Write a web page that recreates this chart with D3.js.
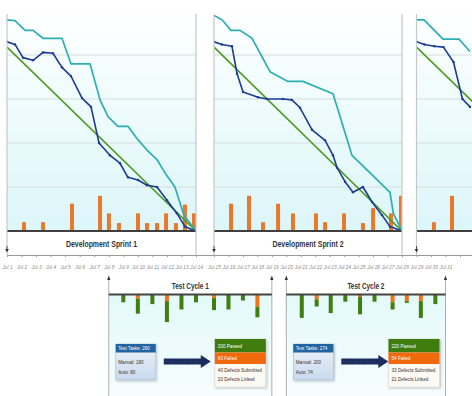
<!DOCTYPE html>
<html><head><meta charset="utf-8">
<script src="https://cdn.jsdelivr.net/npm/d3@7"></script>
<style>
body{margin:0;background:#fff}
svg{display:block}
text{font-family:"Liberation Sans",Arial,sans-serif}
</style>
</head><body>
<svg id="c" width="472" height="396"></svg>
<script>
// ---------------- data ----------------
const sprintNames = ["Development Sprint 1", "Development Sprint 2", ""];
const sprintStart = [1, 15, 29];
const sprintEnd = [14, 28, 42];
const idealStart = 209;
const gridValues = [50, 100, 150, 200];
const tickDays = d3.range(1, 34);
const tickLabels = tickDays.map(d => d <= 31 ? "Jul " + d : "");

// scope (teal) line per sprint
const scopeDays1 = [1,1.55,2.24,2.79,3.48,4.78,5.40,6.71,7.40,7.95,8.63,9.32,9.94,10.63,11.32,11.87,12.55,13.17,14];
const scope1     = [240,239,228,228,219,219,190,190,149,130,119,119,105,92,81,66,50,18,0];
const scopeDays2 = [15,15.55,16.18,16.80,17.63,18.32,18.87,20.12,21.15,23.23,24.54,25.79,27.17,27.40,28];
const scope2     = [245,240,228,228,219,198,181,170,170,156,86,66,44,20,0];
const scopeDays3 = [29,29.52,30.83,31.93,32.69];
const scope3     = [240,240,218,218,204];

// remaining work (blue) line per sprint
const burnDays1 = [1,1.55,2.10,2.79,3.48,4.16,4.78,5.40,6.16,6.78,7.33,8.08,8.77,9.32,10.01,10.63,11.32,12.0,12.69,13.24,13.93];
const burn1     = [215,212,197,194,203,202,186,176,151,141,100,86,77,61,58,52,50,35,20,5,0];
const burnDays2 = [15,15.55,16.24,16.59,17.01,18.04,18.67,19.77,20.39,20.95,21.78,22.68,23.23,23.51,24.06,24.61,25.30,25.93,26.62,27.17,28];
const burn2     = [215,212,210,179,158,152,150,150,149,140,115,103,86,72,56,44,50,33,18,5,0];
const burnDays3 = [29,29.55,30.24,30.86,31.55,32.17,32.69];
const burn3     = [215,212,210,209,192,150,141];

// added work (orange bars) per sprint
const addedDays1 = [2.17,3.48,5.47,7.40,8.01,8.70,10.01,10.63,11.32,11.94,12.62,13.24,13.86];
const added1     = [10,10,31,40,20,9,20,9,9,20,9,30,20];
const addedDays2 = [16.18,17.42,18.39,19.43,20.46,22.05,22.68,23.99,25.30,26.0,27.24,27.93];
const added2     = [31,40,10,31,20,20,10,20,9,26,20,40];
const addedDays3 = [30.2,31.45];
const added3     = [10,40];

// test cycles
const cycleNames = ["Test Cycle 1", "Test Cycle 2"];
const cycleStart = [8, 20];
const cycleEnd = [19, 31];
const cycleDays1 = [9,10,11,12,13,14,15,16,17,18];
const passed1    = [13,25,16,35,25,13,20,25,10,17];
const failed1    = [0,7,0,11,0,0,6,0,0,21];
const cycleDays2 = [21.07,22.1,23.07,24.08,25.1,26.1,27.35,28.33,29.3,30.3];
const passed2    = [39,12,31,12,29,12,12,3,28,16];
const failed2    = [0,8,0,0,4,0,13,11,11,0];
const cycleTasks = [260, 274];
const cycleManual = [180, 200];
const cycleAuto = [80, 74];
const cyclePassed = [200, 220];
const cycleFailed = [60, 54];
const cycleDefectsSubmitted = [40, 33];
const cycleDefectsLinked = [20, 21];

// ---------------- drawing ----------------
const scopeDays = [scopeDays1, scopeDays2, scopeDays3], scopeVals = [scope1, scope2, scope3];
const burnDays = [burnDays1, burnDays2, burnDays3], burnVals = [burn1, burn2, burn3];
const addedDays = [addedDays1, addedDays2, addedDays3], addedVals = [added1, added2, added3];

const svg = d3.select("#c");
const W = 472;
const x = d3.scaleLinear().domain([1, 14, 15, 28, 29, 42]).range([7, 196, 214, 402, 416.5, 605]);
const y = d3.scaleLinear().domain([0, 250]).range([231, 11]);
const PANEL_TOP = 14, LABEL_BOTTOM = 255;

const defs = svg.append("defs");
const g1 = defs.append("linearGradient").attr("id", "bg").attr("x1", 0).attr("y1", 0).attr("x2", 0).attr("y2", 1);
g1.append("stop").attr("offset", "0%").attr("stop-color", "#fdffff");
g1.append("stop").attr("offset", "100%").attr("stop-color", "#dcf6f9");
const g2 = defs.append("linearGradient").attr("id", "bg2").attr("x1", 0).attr("y1", 0).attr("x2", 0).attr("y2", 1);
g2.append("stop").attr("offset", "0%").attr("stop-color", "#e4f9fb");
g2.append("stop").attr("offset", "100%").attr("stop-color", "#f6fdfe");
const g3 = defs.append("linearGradient").attr("id", "taskbg").attr("x1", 0).attr("y1", 0).attr("x2", 0).attr("y2", 1);
g3.append("stop").attr("offset", "0%").attr("stop-color", "#eef3f9");
g3.append("stop").attr("offset", "100%").attr("stop-color", "#c9d9ec");
const f = defs.append("filter").attr("id", "sh").attr("x", "-20%").attr("y", "-20%").attr("width", "140%").attr("height", "140%");
f.append("feDropShadow").attr("dx", 1).attr("dy", 1).attr("stdDeviation", 1).attr("flood-color", "#000").attr("flood-opacity", 0.25);

const lineGen = d3.line().x(d => x(d[0])).y(d => y(d[1]));

sprintNames.forEach((name, i) => {
  const x0 = x(sprintStart[i]), x1 = Math.min(x(sprintEnd[i]), W + 2);
  const g = svg.append("g");
  defs.append("clipPath").attr("id", "clip" + i).append("rect")
    .attr("x", x0).attr("y", PANEL_TOP).attr("width", x1 - x0).attr("height", y(0) - PANEL_TOP);
  g.append("rect").attr("x", x0).attr("y", PANEL_TOP).attr("width", x1 - x0).attr("height", y(0) - PANEL_TOP)
    .attr("fill", "url(#bg)");
  const inner = g.append("g").attr("clip-path", "url(#clip" + i + ")");
  inner.selectAll("line.grid").data(gridValues).join("line")
    .attr("x1", x0).attr("x2", x1).attr("y1", d => y(d)).attr("y2", d => y(d))
    .attr("stroke", "#d6dcdd").attr("stroke-width", 1);
  // bars
  inner.selectAll("rect.bar").data(addedDays[i].map((d, k) => [d, addedVals[i][k]])).join("rect")
    .attr("x", d => x(d[0]) - 2).attr("width", 4)
    .attr("y", d => y(d[1])).attr("height", d => y(0) - y(d[1]))
    .attr("fill", "#e8782c");
  // ideal line
  inner.append("path").datum([[sprintStart[i], idealStart], [sprintEnd[i], 0]])
    .attr("d", lineGen).attr("fill", "none").attr("stroke", "#4b9a1c").attr("stroke-width", 1.6);
  // scope
  inner.append("path").datum(scopeDays[i].map((d, k) => [d, scopeVals[i][k]]))
    .attr("d", lineGen).attr("fill", "none").attr("stroke", "#2cafb2").attr("stroke-width", 1.7)
    .attr("stroke-linejoin", "round");
  // burn
  const bd = burnDays[i].map((d, k) => [d, burnVals[i][k]]);
  inner.append("path").datum(bd)
    .attr("d", lineGen).attr("fill", "none").attr("stroke", "#1b3c95").attr("stroke-width", 1.6)
    .attr("stroke-linejoin", "round");
  inner.selectAll("circle").data(bd).join("circle")
    .attr("cx", d => x(d[0])).attr("cy", d => y(d[1])).attr("r", 1.2).attr("fill", "#1b3c95");
  // baseline
  g.append("line").attr("x1", x0).attr("x2", x1).attr("y1", y(0)).attr("y2", y(0))
    .attr("stroke", "#3f3f3f").attr("stroke-width", 2);
  // label area
  g.append("rect").attr("x", x0).attr("y", y(0) + 1).attr("width", x1 - x0).attr("height", LABEL_BOTTOM - y(0) - 1)
    .attr("fill", "#fff");
  if (name) {
    g.append("text").attr("x", (x0 + x1) / 2).attr("y", 246.5).attr("text-anchor", "middle")
      .attr("font-size", 9.5).attr("font-weight", "bold").attr("fill", "#333")
      .attr("textLength", 71).attr("lengthAdjust", "spacingAndGlyphs").text(name);
  }
  // borders
  [x0, x1].forEach(bx => {
    if (bx < W) g.append("line").attr("x1", bx).attr("x2", bx).attr("y1", PANEL_TOP).attr("y2", LABEL_BOTTOM)
      .attr("stroke", "#c4c8c8").attr("stroke-width", 1.2);
  });
});

// time axis
const ax = svg.append("g").attr("transform", "translate(0," + LABEL_BOTTOM + ")")
  .call(d3.axisBottom(x).tickValues(tickDays).tickSize(2).tickSizeOuter(0).tickFormat((d, i) => tickLabels[i]));
ax.select(".domain").attr("stroke", "#9a9a9a");
ax.selectAll(".tick line").attr("stroke", "#9a9a9a");
ax.selectAll(".tick text").attr("y", 11).attr("font-size", 4.8).attr("font-style", "italic")
  .attr("fill", "#8a8a8a").attr("font-family", "Liberation Sans, Arial, sans-serif");

// sprint start markers
sprintStart.forEach(s => {
  const cx = x(s);
  svg.append("line").attr("x1", cx).attr("x2", cx).attr("y1", 246).attr("y2", 250).attr("stroke", "#333").attr("stroke-width", 0.8);
  svg.append("path").attr("d", `M${cx - 1.8},249 L${cx + 1.8},249 L${cx},252.5 Z`).attr("fill", "#333");
});

// test cycles
const cycleDays = [cycleDays1, cycleDays2], passedVals = [passed1, passed2], failedVals = [failed1, failed2];
const t = d3.scaleLinear().domain([0, 100]).range([0, 60]);
const LINE_Y = 294.5;
cycleNames.forEach((name, i) => {
  const x0 = x(cycleStart[i]), x1 = x(cycleEnd[i]);
  const g = svg.append("g");
  g.append("rect").attr("x", x0).attr("y", LINE_Y).attr("width", x1 - x0).attr("height", 396 - LINE_Y)
    .attr("fill", "url(#bg2)");
  [x0, x1].forEach(bx => {
    g.append("line").attr("x1", bx).attr("x2", bx).attr("y1", 277).attr("y2", 396)
      .attr("stroke", "#9a9a9a").attr("stroke-width", 0.8);
    g.append("path").attr("d", `M${bx - 1.6},280 L${bx + 1.6},280 L${bx},275.5 Z`).attr("fill", "#333");
  });
  g.append("text").attr("x", (x0 + x1) / 2).attr("y", 288.5).attr("text-anchor", "middle")
    .attr("font-size", 9).attr("font-weight", "bold").attr("fill", "#333")
    .attr("textLength", 37).attr("lengthAdjust", "spacingAndGlyphs").text(name);
  // bars
  const data = cycleDays[i].map((d, k) => ({d, p: passedVals[i][k], f: failedVals[i][k]}));
  g.selectAll("rect.f").data(data).join("rect")
    .attr("x", d => x(d.d) - 2).attr("width", 4).attr("y", LINE_Y).attr("height", d => t(d.f))
    .attr("fill", "#f07318");
  g.selectAll("rect.p").data(data).join("rect")
    .attr("x", d => x(d.d) - 2).attr("width", 4).attr("y", d => LINE_Y + t(d.f)).attr("height", d => t(d.p))
    .attr("fill", "#3e7f10");
  g.append("line").attr("x1", x0).attr("x2", x1).attr("y1", LINE_Y).attr("y2", LINE_Y)
    .attr("stroke", "#444").attr("stroke-width", 1.8);

  // tasks box
  const bx = x0 + 7;
  const tb = g.append("g").attr("filter", "url(#sh)");
  tb.append("rect").attr("x", bx).attr("y", 344).attr("width", 40).attr("height", 36)
    .attr("fill", "url(#taskbg)").attr("stroke", "#a6bdd6").attr("stroke-width", 0.6);
  tb.append("rect").attr("x", bx).attr("y", 344).attr("width", 40).attr("height", 8.5).attr("fill", "#2463a1");
  g.append("text").attr("x", bx + 2.5).attr("y", 350).attr("font-size", 4.6).attr("fill", "#fff")
    .text("Test Tasks: " + cycleTasks[i]);
  g.append("text").attr("x", bx + 2.5).attr("y", 363.5).attr("font-size", 4.6).attr("fill", "#333")
    .text("Manual: " + cycleManual[i]);
  g.append("text").attr("x", bx + 2.5).attr("y", 373.5).attr("font-size", 4.6).attr("fill", "#333")
    .text("Auto: " + cycleAuto[i]);

  // arrow
  const a0 = x0 + 55, a1 = x0 + 102, ay = 361.5;
  g.append("path").attr("d",
    `M${a0},${ay - 3} L${a1 - 10},${ay - 3} L${a1 - 10},${ay - 6.5} L${a1},${ay} L${a1 - 10},${ay + 6.5} L${a1 - 10},${ay + 3} L${a0},${ay + 3} Z`)
    .attr("fill", "#1b2d5c");
  g.append("line").attr("x1", a0 + 2).attr("x2", a1 - 12).attr("y1", ay).attr("y2", ay)
    .attr("stroke", "#5d75a6").attr("stroke-width", 0.5).attr("stroke-dasharray", "1,5");

  // result box
  const rx = x1 - 57, rw = 51;
  const rb = g.append("g").attr("filter", "url(#sh)");
  rb.append("rect").attr("x", rx).attr("y", 339).attr("width", rw).attr("height", 48)
    .attr("fill", "#fdf9f3").attr("stroke", "#d2d2d2").attr("stroke-width", 0.6);
  rb.append("rect").attr("x", rx).attr("y", 339).attr("width", rw).attr("height", 13.5).attr("fill", "#3c7c0f");
  rb.append("rect").attr("x", rx).attr("y", 352.5).attr("width", rw).attr("height", 11.5).attr("fill", "#f06a0c");
  g.append("text").attr("x", rx + 3).attr("y", 347.5).attr("font-size", 4.6).attr("fill", "#fff")
    .text(cyclePassed[i] + " Passed");
  g.append("text").attr("x", rx + 3).attr("y", 360).attr("font-size", 4.6).attr("fill", "#fff")
    .text(cycleFailed[i] + " Failed");
  g.append("text").attr("x", rx + 3).attr("y", 371.5).attr("font-size", 4.6).attr("fill", "#333")
    .text(cycleDefectsSubmitted[i] + " Defects Submitted");
  g.append("text").attr("x", rx + 3).attr("y", 381).attr("font-size", 4.6).attr("fill", "#333")
    .text(cycleDefectsLinked[i] + " Defects Linked");
});
</script>
</body></html>
